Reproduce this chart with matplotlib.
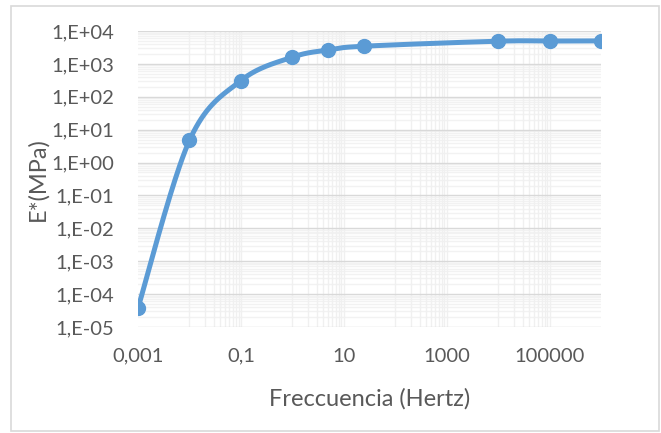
import numpy as np
import matplotlib
matplotlib.use("Agg")
import matplotlib.pyplot as plt
from matplotlib.patches import Rectangle

plt.rcParams["font.family"] = ["Lato", "DejaVu Sans"]

# data
freq_hz = [0.001, 0.01, 0.1, 1, 5, 25, 10000, 100000, 1000000]
modulus_mpa = [3.8e-5, 4.7, 310, 1600, 2650, 3450, 4900, 4950, 5000]
x_ticks = [0.001, 0.1, 10, 1000, 100000]
x_tick_labels = ["0,001", "0,1", "10", "1000", "100000"]
y_ticks = [1e-5, 1e-4, 1e-3, 1e-2, 1e-1, 1e0, 1e1, 1e2, 1e3, 1e4]
y_tick_labels = ["1,E-05", "1,E-04", "1,E-03", "1,E-02", "1,E-01",
                 "1,E+00", "1,E+01", "1,E+02", "1,E+03", "1,E+04"]

BLUE = "#5b9bd5"
TEXT = "#595959"


def smooth(xs, ys, n=40):
    # Excel-like smoothed line: cubic Bezier in log space
    p = np.column_stack([np.log10(xs), np.log10(ys)])
    out = []
    for i in range(len(p) - 1):
        p0 = p[max(i - 1, 0)]
        p1, p2 = p[i], p[i + 1]
        p3 = p[min(i + 2, len(p) - 1)]
        c1 = p1 + (p2 - p0) / 6
        c2 = p2 - (p3 - p1) / 6
        t = np.linspace(0, 1, n)[:, None]
        seg = ((1 - t) ** 3 * p1 + 3 * (1 - t) ** 2 * t * c1
               + 3 * (1 - t) * t ** 2 * c2 + t ** 3 * p2)
        out.append(seg if i == 0 else seg[1:])
    seg = np.vstack(out)
    return 10 ** seg[:, 0], 10 ** seg[:, 1]


fig = plt.figure(figsize=(6.61, 4.33), dpi=100)
fig.patches.append(Rectangle((11 / 661, 2 / 433), 648 / 661, 425 / 433,
                             transform=fig.transFigure, fill=False,
                             edgecolor="#d9d9d9", lw=1.2))
ax = fig.add_axes([138 / 661, 1 - 327 / 433, 463 / 661, 296 / 433])
ax.set_xscale("log")
ax.set_yscale("log")
ax.set_xlim(1e-3, 1e6)
ax.set_ylim(1e-5, 1e4)

# gridlines
for d in range(-5, 4):
    for k in range(2, 10):
        ax.axhline(k * 10.0 ** d, color="#f2f2f2", lw=1, zorder=0)
for d in [-2, 0, 2, 4]:
    for k in range(1, 11):
        ax.axvline(k * 10.0 ** d, color="#f0f0f0", lw=1, zorder=0)
for v in y_ticks:
    ax.axhline(v, color="#d9d9d9", lw=1, zorder=1)

sx, sy = smooth(freq_hz, modulus_mpa)
ax.plot(sx, sy, color=BLUE, lw=3.6, solid_capstyle="round", zorder=3)
ax.plot(freq_hz, modulus_mpa, "o", color=BLUE, ms=10, zorder=4)

for s in ax.spines.values():
    s.set_visible(False)
ax.set_xticks(x_ticks)
ax.set_xticklabels(x_tick_labels)
ax.set_yticks(y_ticks)
ax.set_yticklabels(y_tick_labels)
ax.minorticks_off()
ax.tick_params(length=0, labelsize=14.5, labelcolor=TEXT)
ax.tick_params(axis="y", pad=17)
ax.tick_params(axis="x", pad=15)
ax.set_xlabel("Freccuencia (Hertz)", fontsize=17, color=TEXT, labelpad=17)
ax.set_ylabel("E*(MPa)", fontsize=17, color=TEXT, labelpad=2)

fig.savefig("out.png", dpi=100)
